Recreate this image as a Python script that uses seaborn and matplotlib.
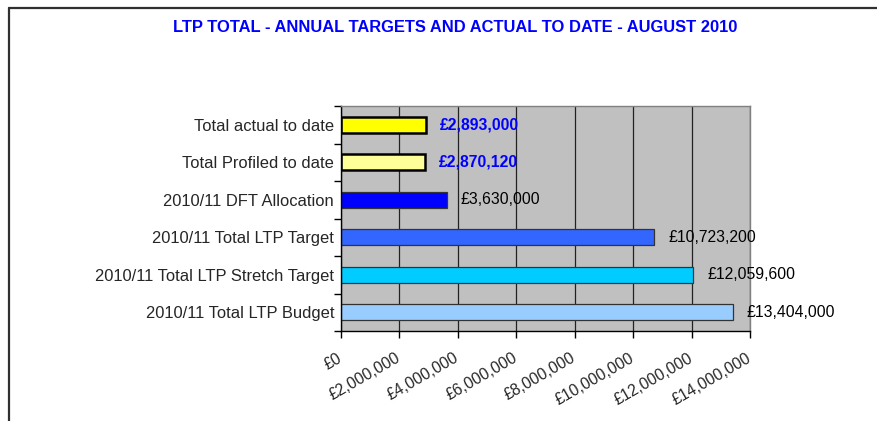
import matplotlib
matplotlib.use("Agg")
import matplotlib.pyplot as plt
from matplotlib.lines import Line2D
from matplotlib.ticker import FuncFormatter, FixedLocator
from matplotlib.transforms import ScaledTranslation
import seaborn as sns
import pandas as pd

# data
categories = [
    "Total actual to date",
    "Total Profiled to date",
    "2010/11 DFT Allocation",
    "2010/11 Total LTP Target",
    "2010/11 Total LTP Stretch Target",
    "2010/11 Total LTP Budget",
]
values = [2893000, 2870120, 3630000, 10723200, 12059600, 13404000]
bar_colors = ["#FFFF00", "#FFFF99", "#0000FF", "#3366FF", "#00CCFF", "#99CCFF"]
highlight = [True, True, False, False, False, False]
x_ticks = [0, 2000000, 4000000, 6000000, 8000000, 10000000, 12000000, 14000000]

df = pd.DataFrame({"category": categories, "value": values})

sns.set_style("white")
plt.rcParams["font.family"] = ["Liberation Sans", "DejaVu Sans"]

fig = plt.figure(figsize=(8.77, 4.21), dpi=100)
ax = fig.add_axes([341 / 877, 90 / 421, 409 / 877, 225 / 421])

sns.barplot(data=df, x="value", y="category", hue="category", palette=bar_colors,
            saturation=1, orient="h", width=0.42, legend=False, ax=ax)

# outlines: the two "to date" bars get a heavy black edge
for patch, hl in zip(ax.patches, highlight):
    if hl:
        patch.set_edgecolor("black")
        patch.set_linewidth(1.8)
    else:
        patch.set_edgecolor("#333333")
        patch.set_linewidth(0.9)

ax.set_facecolor("#C0C0C0")
ax.set_xlim(0, 14000000)
ax.set_ylim(5.5, -0.5)
ax.xaxis.set_major_locator(FixedLocator(x_ticks))
ax.xaxis.set_major_formatter(FuncFormatter(lambda v, p: f"£{v:,.0f}"))
ax.grid(axis="x", color="#222222", linewidth=0.9)
ax.set_axisbelow(True)
ax.set_xlabel("")
ax.set_ylabel("")

# category labels sit centred on bars, tick marks between categories
ax.set_yticks(range(len(categories)))
ax.set_yticklabels(categories, fontsize=11.9)
ax.set_yticks([i - 0.5 for i in range(len(categories) + 1)], minor=True)
ax.tick_params(axis="y", which="major", length=0, pad=5)
ax.tick_params(axis="y", which="minor", length=5, width=1, color="black", left=True)
ax.tick_params(axis="x", length=5, width=1, color="black", bottom=True,
               labelsize=11.3, pad=9)
shift = ScaledTranslation(-4 / 100, 0, fig.dpi_scale_trans)
for lbl in ax.get_xticklabels():
    lbl.set_rotation(30)
    lbl.set_ha("right")
    lbl.set_rotation_mode("anchor")
    lbl.set_transform(lbl.get_transform() + shift)

for side in ["left", "bottom"]:
    ax.spines[side].set_color("black")
    ax.spines[side].set_linewidth(1.0)
for side in ["top", "right"]:
    ax.spines[side].set_color("#808080")
    ax.spines[side].set_linewidth(1.0)

# value labels
for i, (v, hl) in enumerate(zip(values, highlight)):
    ax.annotate(f"£{v:,.0f}", xy=(v, i), xytext=(10, 0), textcoords="offset points",
                va="center", ha="left", fontsize=11.3,
                color="#0000FF" if hl else "black",
                fontweight="bold" if hl else "normal", annotation_clip=False)

fig.text(455 / 877, 1 - 27.5 / 421, "LTP TOTAL - ANNUAL TARGETS AND ACTUAL TO DATE - AUGUST 2010",
         ha="center", va="center", color="#0000FF", fontsize=11.9, fontweight="bold")

# chart frame (cropped: only left and top edges visible)
fig.add_artist(Line2D([9 / 877, 9 / 877], [0, 1 - 8 / 421], color="#303030", linewidth=1.6))
fig.add_artist(Line2D([9 / 877, 1], [1 - 8 / 421, 1 - 8 / 421], color="#303030", linewidth=1.6))

fig.savefig("out.png", dpi=100)
